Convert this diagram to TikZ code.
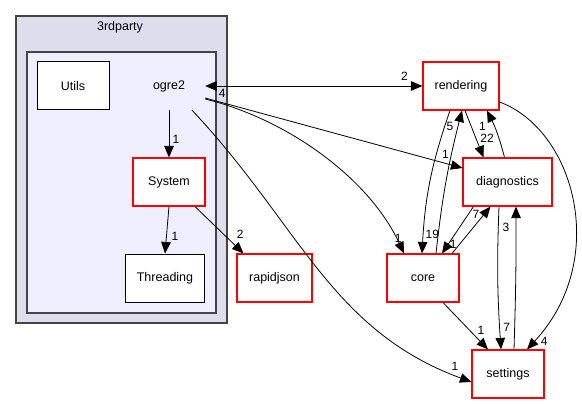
\documentclass[tikz,border=0pt]{standalone}
\usepackage{fontspec}
\setmainfont{Liberation Sans}
\usetikzlibrary{arrows.meta}

\definecolor{clusterout}{HTML}{DDDDEE}
\definecolor{clusterin}{HTML}{EEEEFF}
\definecolor{clusterline}{HTML}{444444}

\begin{document}
\begin{tikzpicture}[x=1pt, y=-1pt, >={Triangle[length=11.5pt,width=9.5pt]},
  every node/.style={font=\fontsize{12.5}{15}\selectfont},
  dirnode/.style={draw=red, fill=white, line width=1.1pt, minimum height=48pt, inner sep=0pt},
  leafnode/.style={draw=black, fill=white, line width=1pt, minimum height=48pt, inner sep=0pt},
  dep/.style={->, line width=0.8pt},
  cnt/.style={inner sep=0pt, font=\fontsize{12}{14}\selectfont}]

\useasboundingbox (0,0) rectangle (582,404);

% Clusters
\draw[fill=clusterout, draw=clusterline, line width=1.2pt] (16,16) rectangle (227,323);
\node (thirdparty) at (120,27) {3rdparty};
\draw[fill=clusterin, draw=clusterline, line width=1.2pt] (27,52) rectangle (216,313);

% Directories inside 3rdparty/ogre2
\node[leafnode, minimum width=72pt] (Utils) at (73,86) {Utils};
\node[minimum width=72pt, minimum height=48pt, inner sep=0pt] (ogre2) at (169,86) {ogre2};
\node[dirnode, minimum width=72pt] (System) at (169,182) {System};
\node[leafnode, minimum width=79pt] (Threading) at (165,278) {Threading};

% Other directories
\node[dirnode, minimum width=75pt] (rapidjson) at (274.5,278) {rapidjson};
\node[dirnode, minimum width=76pt] (rendering) at (461,86) {rendering};
\node[dirnode, minimum width=89pt] (diagnostics) at (507.5,182) {diagnostics};
\node[dirnode, minimum width=72pt] (core) at (423,278) {core};
\node[dirnode, minimum width=72pt] (settings) at (508,374) {settings};

% ogre2 dependencies
\draw[dep] (ogre2.south) -- (System.north) node[cnt, pos=0.625, xshift=7pt] {1};
\draw[dep] (System.south) -- (Threading.north) node[cnt, pos=0.625, xshift=8.5pt] {1};
\draw[dep] ([xshift=26pt]System.south) -- ([xshift=-31pt]rapidjson.north) node[cnt, pos=0.6, xshift=16pt] {2};
\draw[<->, line width=0.8pt] (ogre2.east) -- (rendering.west)
  node[cnt, pos=0.917, yshift=10pt] {2} node[cnt, pos=0.078, yshift=-7pt] {4};
\draw[dep] ([yshift=-12pt]ogre2.east) -- ([yshift=14pt]diagnostics.west) node[cnt, pos=0.934, yshift=9.5pt] {1};
\draw[dep] ([yshift=-13pt]ogre2.east) .. controls (290,120) and (370,180) .. ([xshift=-19pt]core.north)
  node[cnt, pos=0.93, xshift=2pt] {1};
\draw[dep] ([xshift=23pt]ogre2.south) .. controls (300,225) and (330,330) .. ([yshift=-8pt]settings.west)
  node[cnt, pos=0.96, yshift=9pt] {1};

% rendering / core / diagnostics / settings
\draw[dep] ([xshift=-11pt]rendering.south) to[bend right=8] node[cnt, pos=0.88, xshift=9pt] {19} ([xshift=-1pt]core.north);
\draw[dep] ([xshift=13pt]core.north) to[bend left=4] node[cnt, pos=0.9, xshift=-8pt] {5} ([xshift=1pt]rendering.south);
\draw[dep] ([xshift=4pt]rendering.south) -- ([xshift=-24pt]diagnostics.north) node[cnt, pos=0.6, xshift=11pt] {22};
\draw[dep] ([xshift=-3pt]diagnostics.north) to[bend right=6] node[cnt, pos=0.66, xshift=-12pt] {1} ([xshift=26pt]rendering.south);
\draw[dep] ([xshift=-34pt]diagnostics.south) -- ([xshift=19pt]core.north) node[cnt, pos=0.8, xshift=5pt] {1};
\draw[dep] ([xshift=29pt]core.north) -- ([xshift=-17pt]diagnostics.south) node[cnt, pos=0.83, xshift=-8pt] {7};
\draw[dep] ([xshift=-8.5pt]diagnostics.south) to[bend right=3] node[cnt, pos=0.86, xshift=7pt] {7} ([xshift=-7pt]settings.north);
\draw[dep] ([xshift=6pt]settings.north) to[bend right=1] node[cnt, pos=0.87, xshift=-10pt] {3} ([xshift=8.5pt]diagnostics.south);
\draw[dep] ([yshift=-16pt]rendering.east) .. controls (575,130) and (610,260) .. ([xshift=19pt]settings.north)
  node[cnt, pos=0.97, xshift=10pt] {4};
\draw[dep] ([xshift=20pt]core.south) -- ([xshift=-20pt]settings.north) node[cnt, pos=0.6, xshift=11pt] {1};

\end{tikzpicture}
\end{document}
